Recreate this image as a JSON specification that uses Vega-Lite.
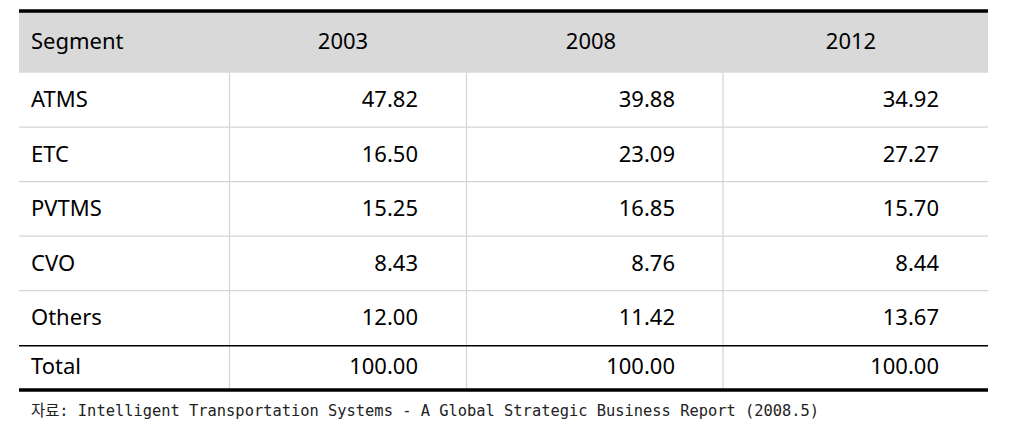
{
  "$schema": "https://vega.github.io/schema/vega-lite/v6.json",
  "width": 1011,
  "height": 440,
  "padding": 0,
  "autosize": "none",
  "background": "white",
  "config": {"view": {"stroke": null}},
  "datasets": {
    "cells": [
      {"segment": "ATMS", "r": 1, "year": "2003", "c": 1, "value": 47.82},
      {"segment": "ATMS", "r": 1, "year": "2008", "c": 2, "value": 39.88},
      {"segment": "ATMS", "r": 1, "year": "2012", "c": 3, "value": 34.92},
      {"segment": "ETC", "r": 2, "year": "2003", "c": 1, "value": 16.50},
      {"segment": "ETC", "r": 2, "year": "2008", "c": 2, "value": 23.09},
      {"segment": "ETC", "r": 2, "year": "2012", "c": 3, "value": 27.27},
      {"segment": "PVTMS", "r": 3, "year": "2003", "c": 1, "value": 15.25},
      {"segment": "PVTMS", "r": 3, "year": "2008", "c": 2, "value": 16.85},
      {"segment": "PVTMS", "r": 3, "year": "2012", "c": 3, "value": 15.70},
      {"segment": "CVO", "r": 4, "year": "2003", "c": 1, "value": 8.43},
      {"segment": "CVO", "r": 4, "year": "2008", "c": 2, "value": 8.76},
      {"segment": "CVO", "r": 4, "year": "2012", "c": 3, "value": 8.44},
      {"segment": "Others", "r": 5, "year": "2003", "c": 1, "value": 12.00},
      {"segment": "Others", "r": 5, "year": "2008", "c": 2, "value": 11.42},
      {"segment": "Others", "r": 5, "year": "2012", "c": 3, "value": 13.67},
      {"segment": "Total", "r": 6, "year": "2003", "c": 1, "value": 100.00},
      {"segment": "Total", "r": 6, "year": "2008", "c": 2, "value": 100.00},
      {"segment": "Total", "r": 6, "year": "2012", "c": 3, "value": 100.00}
    ],
    "rowlabels": [
      {"label": "Segment", "r": 0},
      {"label": "ATMS", "r": 1},
      {"label": "ETC", "r": 2},
      {"label": "PVTMS", "r": 3},
      {"label": "CVO", "r": 4},
      {"label": "Others", "r": 5},
      {"label": "Total", "r": 6}
    ],
    "years": [
      {"year": "2003", "c": 1},
      {"year": "2008", "c": 2},
      {"year": "2012", "c": 3}
    ],
    "note": [
      {"note": "자료: Intelligent Transportation Systems - A Global Strategic Business Report (2008.5)"}
    ]
  },
  "resolve": {"scale": {"x": "independent", "y": "independent"}},
  "layer": [
    {
      "data": {"name": "years"},
      "mark": {"type": "rect", "fill": "#d9d9d9"},
      "transform": [{"filter": "datum.c == 1"}],
      "encoding": {
        "x": {"datum": 0, "type": "quantitative", "axis": null, "scale": {"domain": [0, 1, 2, 3, 4], "range": [19, 229.5, 466.5, 723, 988], "nice": false, "zero": false}},
        "x2": {"datum": 4},
        "y": {"datum": 0, "type": "quantitative", "axis": null, "scale": {"domain": [0, 1, 2, 3, 4, 5, 6, 7], "range": [11, 72.7, 127.2, 181.7, 236.2, 290.7, 345.7, 390], "nice": false, "zero": false}},
        "y2": {"datum": 1}
      }
    },
    {
      "data": {"name": "rowlabels"},
      "transform": [{"filter": "datum.r >= 2 && datum.r <= 5"}],
      "mark": {"type": "rule", "stroke": "#d4d4d4", "strokeWidth": 1.2},
      "encoding": {
        "x": {"datum": 0, "type": "quantitative", "axis": null, "scale": {"domain": [0, 1, 2, 3, 4], "range": [19, 229.5, 466.5, 723, 988], "nice": false, "zero": false}},
        "x2": {"datum": 4},
        "y": {"field": "r", "type": "quantitative", "axis": null, "scale": {"domain": [0, 1, 2, 3, 4, 5, 6, 7], "range": [11, 72.7, 127.2, 181.7, 236.2, 290.7, 345.7, 390], "nice": false, "zero": false}}
      }
    },
    {
      "data": {"name": "years"},
      "mark": {"type": "rule", "stroke": "#d4d4d4", "strokeWidth": 1.2},
      "encoding": {
        "x": {"field": "c", "type": "quantitative", "axis": null, "scale": {"domain": [0, 1, 2, 3, 4], "range": [19, 229.5, 466.5, 723, 988], "nice": false, "zero": false}},
        "y": {"datum": 1, "type": "quantitative", "axis": null, "scale": {"domain": [0, 1, 2, 3, 4, 5, 6, 7], "range": [11, 72.7, 127.2, 181.7, 236.2, 290.7, 345.7, 390], "nice": false, "zero": false}},
        "y2": {"datum": 7}
      }
    },
    {
      "data": {"name": "rowlabels"},
      "transform": [{"filter": "datum.r == 6"}],
      "mark": {"type": "rule", "stroke": "#000000", "strokeWidth": 1.5},
      "encoding": {
        "x": {"datum": 0, "type": "quantitative", "axis": null, "scale": {"domain": [0, 1, 2, 3, 4], "range": [19, 229.5, 466.5, 723, 988], "nice": false, "zero": false}},
        "x2": {"datum": 4},
        "y": {"field": "r", "type": "quantitative", "axis": null, "scale": {"domain": [0, 1, 2, 3, 4, 5, 6, 7], "range": [11, 72.7, 127.2, 181.7, 236.2, 290.7, 345.7, 390], "nice": false, "zero": false}}
      }
    },
    {
      "data": {"name": "years"},
      "transform": [{"filter": "datum.c == 1"}],
      "mark": {"type": "rule", "stroke": "#000000", "strokeWidth": 3.5},
      "encoding": {
        "x": {"datum": 0, "type": "quantitative", "axis": null, "scale": {"domain": [0, 1, 2, 3, 4], "range": [19, 229.5, 466.5, 723, 988], "nice": false, "zero": false}},
        "x2": {"datum": 4},
        "y": {"datum": 0, "type": "quantitative", "axis": null, "scale": {"domain": [0, 1, 2, 3, 4, 5, 6, 7], "range": [11, 72.7, 127.2, 181.7, 236.2, 290.7, 345.7, 390], "nice": false, "zero": false}}
      }
    },
    {
      "data": {"name": "years"},
      "transform": [{"filter": "datum.c == 1"}],
      "mark": {"type": "rule", "stroke": "#000000", "strokeWidth": 3.5},
      "encoding": {
        "x": {"datum": 0, "type": "quantitative", "axis": null, "scale": {"domain": [0, 1, 2, 3, 4], "range": [19, 229.5, 466.5, 723, 988], "nice": false, "zero": false}},
        "x2": {"datum": 4},
        "y": {"datum": 7, "type": "quantitative", "axis": null, "scale": {"domain": [0, 1, 2, 3, 4, 5, 6, 7], "range": [11, 72.7, 127.2, 181.7, 236.2, 290.7, 345.7, 390], "nice": false, "zero": false}}
      }
    },
    {
      "data": {"name": "rowlabels"},
      "mark": {"type": "text", "align": "left", "baseline": "middle", "font": "Noto Sans", "fontSize": 22, "color": "#000000"},
      "encoding": {
        "text": {"field": "label"},
        "x": {"datum": 0, "type": "quantitative", "axis": null, "scale": {"domain": [0, 1], "range": [31, 100], "nice": false, "zero": false}},
        "y": {"field": "r", "type": "quantitative", "axis": null, "scale": {"domain": [0, 1, 2, 3, 4, 5, 6], "range": [42, 100, 155, 209, 264, 318, 367], "nice": false, "zero": false}}
      }
    },
    {
      "data": {"name": "years"},
      "mark": {"type": "text", "align": "center", "baseline": "middle", "font": "Noto Sans", "fontSize": 22, "color": "#000000"},
      "encoding": {
        "text": {"field": "year"},
        "x": {"field": "c", "type": "quantitative", "axis": null, "scale": {"domain": [1, 2, 3], "range": [343, 591, 851], "nice": false, "zero": false}},
        "y": {"datum": 0, "type": "quantitative", "axis": null, "scale": {"domain": [0, 1, 2, 3, 4, 5, 6], "range": [42, 100, 155, 209, 264, 318, 367], "nice": false, "zero": false}}
      }
    },
    {
      "data": {"name": "cells"},
      "mark": {"type": "text", "align": "right", "baseline": "middle", "font": "Noto Sans", "fontSize": 22, "color": "#000000"},
      "encoding": {
        "text": {"field": "value", "type": "quantitative", "format": ".2f"},
        "x": {"field": "c", "type": "quantitative", "axis": null, "scale": {"domain": [1, 2, 3], "range": [418, 675, 939], "nice": false, "zero": false}},
        "y": {"field": "r", "type": "quantitative", "axis": null, "scale": {"domain": [0, 1, 2, 3, 4, 5, 6], "range": [42, 100, 155, 209, 264, 318, 367], "nice": false, "zero": false}}
      }
    },
    {
      "data": {"name": "note"},
      "mark": {"type": "text", "align": "left", "baseline": "middle", "font": "DejaVu Sans Mono, Noto Sans CJK KR", "fontSize": 15.4, "color": "#222222"},
      "encoding": {
        "text": {"field": "note"},
        "x": {"datum": 0, "type": "quantitative", "axis": null, "scale": {"domain": [0, 1], "range": [31, 100], "nice": false, "zero": false}},
        "y": {"datum": 0, "type": "quantitative", "axis": null, "scale": {"domain": [0, 1], "range": [411, 440], "nice": false, "zero": false}}
      }
    }
  ]
}
